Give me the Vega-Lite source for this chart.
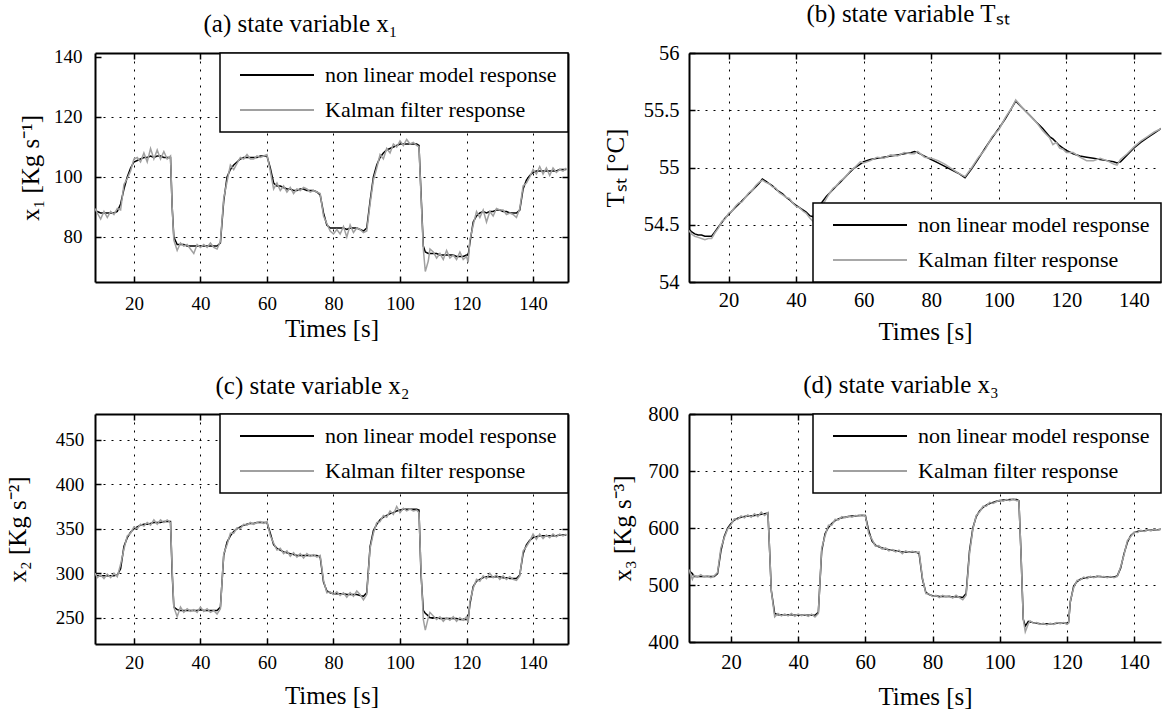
{
 "$schema": "https://vega.github.io/schema/vega-lite/v6.json",
 "background": "white",
 "padding": {"left": 5, "top": 2, "right": 0, "bottom": 0},
 "bounds": "flush",
 "align": "each",
 "columns": 2,
 "spacing": {"row": 132, "column": 121},
 "resolve": {"scale": {"color": "independent"}, "legend": {"color": "independent"}},
 "datasets": {
  "A": [
   {"t":8.3,"m":88.5,"k":89.5},{"t":9,"m":88.5,"k":88},{"t":10,"m":88,"k":86},{"t":11,"m":88,"k":88.5},{"t":12,"m":88,"k":86.5},{"t":13,"m":88,"k":88.5},{"t":14,"m":88,"k":87.5},{"t":15,"m":88.5,"k":89.5},{"t":16,"m":91,"k":89},{"t":17,"m":96,"k":97.5},{"t":18,"m":100,"k":99.5},{"t":19,"m":103,"k":102},{"t":20,"m":105,"k":106},{"t":21,"m":105.5,"k":106.5},{"t":22,"m":106,"k":105},{"t":23,"m":106.5,"k":108},{"t":24,"m":106.5,"k":105},{"t":25,"m":107,"k":109.5},{"t":26,"m":106.5,"k":106},{"t":27,"m":107,"k":109},{"t":28,"m":107,"k":106},{"t":29,"m":106.5,"k":108.5},{"t":30,"m":106.5,"k":106},{"t":31,"m":106.5,"k":107},{"t":31.5,"m":90,"k":90},{"t":32,"m":80,"k":79},{"t":33,"m":77.5,"k":75.5},{"t":34,"m":77.5,"k":78},{"t":35,"m":77.5,"k":77},{"t":36,"m":77,"k":77.5},{"t":37,"m":77,"k":76},{"t":38,"m":77,"k":74.5},{"t":39,"m":77,"k":77.5},{"t":40,"m":77,"k":76.5},{"t":41,"m":77,"k":77.5},{"t":42,"m":77,"k":76.5},{"t":43,"m":77,"k":78},{"t":44,"m":77,"k":76.5},{"t":45,"m":77,"k":76},{"t":46,"m":78,"k":78.5},{"t":47,"m":92,"k":93},{"t":48,"m":100,"k":98.5},{"t":49,"m":102.5,"k":104},{"t":50,"m":104,"k":102.5},{"t":51,"m":105,"k":104.5},{"t":52,"m":106,"k":106.5},{"t":53,"m":106.5,"k":106},{"t":54,"m":106.5,"k":107.5},{"t":55,"m":106.5,"k":106},{"t":56,"m":106.5,"k":106},{"t":57,"m":106.5,"k":107},{"t":58,"m":107,"k":106.5},{"t":59,"m":107,"k":107},{"t":60,"m":107,"k":107.5},{"t":61,"m":103,"k":102},{"t":62,"m":98,"k":96},{"t":63,"m":97,"k":98},{"t":64,"m":97,"k":95.5},{"t":65,"m":96.5,"k":97},{"t":66,"m":96,"k":95},{"t":67,"m":96,"k":96.5},{"t":68,"m":95.5,"k":94.5},{"t":69,"m":95.5,"k":96},{"t":70,"m":96,"k":95.5},{"t":71,"m":96,"k":96.5},{"t":72,"m":95.5,"k":96},{"t":73,"m":95.5,"k":95},{"t":74,"m":95.5,"k":95.5},{"t":75,"m":95,"k":95},{"t":76,"m":94,"k":94.5},{"t":77,"m":88,"k":87},{"t":78,"m":84,"k":84.5},{"t":79,"m":83,"k":82},{"t":80,"m":83,"k":81},{"t":81,"m":83,"k":82.5},{"t":82,"m":83,"k":81},{"t":83,"m":83,"k":83.5},{"t":84,"m":82.5,"k":80},{"t":85,"m":83,"k":84},{"t":86,"m":83,"k":81.5},{"t":87,"m":83,"k":83},{"t":88,"m":82.5,"k":82.5},{"t":89,"m":82,"k":81.5},{"t":90,"m":83,"k":82},{"t":91,"m":92,"k":91},{"t":92,"m":100,"k":99},{"t":93,"m":104,"k":103},{"t":94,"m":106.5,"k":107.5},{"t":95,"m":108,"k":106},{"t":96,"m":109,"k":109.5},{"t":97,"m":109.5,"k":108},{"t":98,"m":110,"k":111},{"t":99,"m":110.5,"k":110},{"t":100,"m":111,"k":112},{"t":101,"m":111,"k":110.5},{"t":102,"m":111,"k":112.5},{"t":103,"m":111,"k":111},{"t":104,"m":111,"k":111.5},{"t":105,"m":111,"k":110.5},{"t":105.7,"m":110.5,"k":110},{"t":106.3,"m":95,"k":94},{"t":107,"m":77,"k":76},{"t":107.6,"m":75,"k":68.5},{"t":108.5,"m":74.5,"k":72},{"t":109,"m":74.5,"k":76},{"t":110,"m":74.5,"k":75},{"t":111,"m":74.5,"k":73},{"t":112,"m":74,"k":74.5},{"t":113,"m":74,"k":72.5},{"t":114,"m":74,"k":75.5},{"t":115,"m":74,"k":73},{"t":116,"m":74,"k":74},{"t":117,"m":73.5,"k":72.5},{"t":118,"m":73.5,"k":75},{"t":119,"m":73.5,"k":72.5},{"t":120,"m":74,"k":73.5},{"t":120.5,"m":74,"k":71.5},{"t":121,"m":78,"k":79},{"t":122,"m":85,"k":84},{"t":123,"m":87,"k":88.5},{"t":124,"m":88,"k":86.5},{"t":125,"m":88.5,"k":89},{"t":126,"m":88,"k":85},{"t":127,"m":88.5,"k":88.5},{"t":128,"m":88.5,"k":87},{"t":129,"m":89,"k":89.5},{"t":130,"m":89,"k":89},{"t":131,"m":88.5,"k":89},{"t":132,"m":88.5,"k":87.5},{"t":133,"m":88,"k":88},{"t":134,"m":88,"k":87.5},{"t":135,"m":88,"k":86.5},{"t":136,"m":89,"k":89.5},{"t":137,"m":96,"k":97},{"t":138,"m":99,"k":98},{"t":139,"m":100.5,"k":100},{"t":140,"m":101.5,"k":102.5},{"t":141,"m":102,"k":101},{"t":142,"m":102,"k":103.5},{"t":143,"m":102,"k":101},{"t":144,"m":102,"k":103},{"t":145,"m":102,"k":100.5},{"t":146,"m":102,"k":103},{"t":147,"m":102,"k":101.5},{"t":148,"m":102.5,"k":102.5},{"t":149,"m":102.5,"k":102},{"t":150,"m":102.5,"k":103}
  ],
  "B": [
   {"t":8.3,"m":54.46,"k":54.45},{"t":9,"m":54.44,"k":54.42},{"t":10,"m":54.42,"k":54.4},{"t":11,"m":54.41,"k":54.39},{"t":12,"m":54.41,"k":54.38},{"t":13,"m":54.4,"k":54.37},{"t":14,"m":54.4,"k":54.38},{"t":15,"m":54.4,"k":54.38},{"t":16,"m":54.44,"k":54.43},{"t":17,"m":54.48,"k":54.47},{"t":18,"m":54.52,"k":54.53},{"t":19,"m":54.56,"k":54.55},{"t":20,"m":54.59,"k":54.6},{"t":21,"m":54.62,"k":54.62},{"t":22,"m":54.65,"k":54.66},{"t":23,"m":54.68,"k":54.69},{"t":24,"m":54.71,"k":54.7},{"t":25,"m":54.74,"k":54.74},{"t":26,"m":54.77,"k":54.78},{"t":27,"m":54.8,"k":54.8},{"t":28,"m":54.83,"k":54.84},{"t":29,"m":54.86,"k":54.87},{"t":30,"m":54.9,"k":54.89},{"t":31,"m":54.88,"k":54.87},{"t":32,"m":54.86,"k":54.86},{"t":33,"m":54.84,"k":54.83},{"t":34,"m":54.81,"k":54.82},{"t":35,"m":54.79,"k":54.78},{"t":36,"m":54.77,"k":54.76},{"t":37,"m":54.74,"k":54.74},{"t":38,"m":54.72,"k":54.73},{"t":39,"m":54.69,"k":54.69},{"t":40,"m":54.67,"k":54.66},{"t":41,"m":54.65,"k":54.65},{"t":42,"m":54.63,"k":54.62},{"t":43,"m":54.61,"k":54.6},{"t":44,"m":54.58,"k":54.56},{"t":45,"m":54.57,"k":54.53},{"t":46,"m":54.62,"k":54.6},{"t":47,"m":54.67,"k":54.66},{"t":48,"m":54.71,"k":54.68},{"t":49,"m":54.75,"k":54.73},{"t":50,"m":54.78,"k":54.78},{"t":51,"m":54.81,"k":54.82},{"t":52,"m":54.84,"k":54.84},{"t":53,"m":54.87,"k":54.88},{"t":54,"m":54.9,"k":54.9},{"t":55,"m":54.93,"k":54.93},{"t":56,"m":54.96,"k":54.97},{"t":57,"m":54.99,"k":54.99},{"t":58,"m":55.01,"k":55.02},{"t":59,"m":55.03,"k":55.05},{"t":60,"m":55.05,"k":55.04},{"t":62,"m":55.07,"k":55.06},{"t":64,"m":55.08,"k":55.09},{"t":66,"m":55.09,"k":55.08},{"t":68,"m":55.1,"k":55.11},{"t":70,"m":55.11,"k":55.1},{"t":72,"m":55.12,"k":55.13},{"t":74,"m":55.13,"k":55.12},{"t":75,"m":55.14,"k":55.12},{"t":76,"m":55.13,"k":55.14},{"t":78,"m":55.1,"k":55.09},{"t":80,"m":55.07,"k":55.08},{"t":82,"m":55.04,"k":55.06},{"t":84,"m":55.01,"k":55.03},{"t":86,"m":54.98,"k":54.99},{"t":88,"m":54.95,"k":54.95},{"t":90,"m":54.91,"k":54.92},{"t":92,"m":54.99,"k":55},{"t":94,"m":55.08,"k":55.09},{"t":96,"m":55.17,"k":55.16},{"t":98,"m":55.26,"k":55.27},{"t":100,"m":55.34,"k":55.33},{"t":102,"m":55.43,"k":55.44},{"t":104,"m":55.53,"k":55.53},{"t":105,"m":55.58,"k":55.59},{"t":107,"m":55.52,"k":55.52},{"t":109,"m":55.46,"k":55.46},{"t":111,"m":55.4,"k":55.4},{"t":113,"m":55.34,"k":55.32},{"t":115,"m":55.27,"k":55.26},{"t":116,"m":55.25,"k":55.2},{"t":117,"m":55.22,"k":55.22},{"t":118,"m":55.19,"k":55.17},{"t":119,"m":55.17,"k":55.16},{"t":120,"m":55.15,"k":55.13},{"t":122,"m":55.12,"k":55.13},{"t":124,"m":55.1,"k":55.09},{"t":126,"m":55.09,"k":55.06},{"t":128,"m":55.08,"k":55.06},{"t":130,"m":55.07,"k":55.08},{"t":132,"m":55.06,"k":55.06},{"t":134,"m":55.05,"k":55.03},{"t":135,"m":55.04,"k":55.02},{"t":136,"m":55.05,"k":55.07},{"t":138,"m":55.11,"k":55.12},{"t":140,"m":55.17,"k":55.18},{"t":142,"m":55.22,"k":55.23},{"t":144,"m":55.26,"k":55.27},{"t":146,"m":55.3,"k":55.31},{"t":148,"m":55.34,"k":55.34},{"t":150,"m":55.38,"k":55.38}
  ],
  "C": [
   {"t":8.3,"m":297,"k":300},{"t":9,"m":297,"k":295},{"t":10,"m":297,"k":298},{"t":11,"m":297,"k":294},{"t":12,"m":297,"k":299},{"t":13,"m":297,"k":295},{"t":14,"m":297,"k":300},{"t":15,"m":298,"k":296},{"t":16,"m":305,"k":310},{"t":17,"m":330,"k":327},{"t":18,"m":340,"k":342},{"t":19,"m":346,"k":345},{"t":20,"m":350,"k":352},{"t":21,"m":352,"k":350},{"t":22,"m":354,"k":355},{"t":23,"m":355,"k":353},{"t":24,"m":355,"k":357},{"t":25,"m":356,"k":354},{"t":26,"m":357,"k":360},{"t":27,"m":357,"k":355},{"t":28,"m":357,"k":360},{"t":29,"m":358,"k":357},{"t":30,"m":358,"k":360},{"t":31,"m":358,"k":357},{"t":31.5,"m":300,"k":305},{"t":32,"m":262,"k":262},{"t":33,"m":259,"k":251},{"t":34,"m":258,"k":262},{"t":35,"m":258,"k":256},{"t":36,"m":258,"k":260},{"t":37,"m":258,"k":257},{"t":38,"m":258,"k":259},{"t":39,"m":258,"k":256},{"t":40,"m":259,"k":262},{"t":41,"m":258,"k":257},{"t":42,"m":258,"k":260},{"t":43,"m":258,"k":256},{"t":44,"m":258,"k":258},{"t":45,"m":258,"k":254},{"t":46,"m":262,"k":260},{"t":47,"m":320,"k":322},{"t":48,"m":335,"k":332},{"t":49,"m":342,"k":345},{"t":50,"m":347,"k":345},{"t":51,"m":350,"k":351},{"t":52,"m":352,"k":350},{"t":53,"m":354,"k":355},{"t":54,"m":355,"k":354},{"t":55,"m":356,"k":357},{"t":56,"m":356,"k":355},{"t":57,"m":357,"k":357},{"t":58,"m":357,"k":358},{"t":59,"m":357,"k":356},{"t":60,"m":357,"k":358},{"t":61,"m":345,"k":342},{"t":62,"m":332,"k":334},{"t":63,"m":328,"k":326},{"t":64,"m":326,"k":328},{"t":65,"m":324,"k":322},{"t":66,"m":323,"k":325},{"t":67,"m":322,"k":319},{"t":68,"m":321,"k":323},{"t":69,"m":320,"k":318},{"t":70,"m":320,"k":322},{"t":71,"m":320,"k":317},{"t":72,"m":320,"k":322},{"t":73,"m":320,"k":319},{"t":74,"m":320,"k":321},{"t":75,"m":320,"k":318},{"t":76,"m":318,"k":320},{"t":77,"m":290,"k":292},{"t":78,"m":280,"k":278},{"t":79,"m":278,"k":279},{"t":80,"m":277,"k":276},{"t":81,"m":277,"k":279},{"t":82,"m":277,"k":275},{"t":83,"m":277,"k":278},{"t":84,"m":276,"k":273},{"t":85,"m":276,"k":278},{"t":86,"m":276,"k":274},{"t":87,"m":276,"k":280},{"t":88,"m":275,"k":276},{"t":89,"m":274,"k":270},{"t":90,"m":278,"k":276},{"t":91,"m":330,"k":328},{"t":92,"m":348,"k":345},{"t":93,"m":355,"k":357},{"t":94,"m":360,"k":358},{"t":95,"m":363,"k":365},{"t":96,"m":365,"k":363},{"t":97,"m":367,"k":370},{"t":98,"m":368,"k":366},{"t":99,"m":370,"k":375},{"t":100,"m":371,"k":368},{"t":101,"m":372,"k":373},{"t":102,"m":372,"k":370},{"t":103,"m":372,"k":372},{"t":104,"m":372,"k":370},{"t":105,"m":372,"k":371},{"t":105.7,"m":371,"k":368},{"t":106.3,"m":300,"k":305},{"t":107,"m":258,"k":248},{"t":107.6,"m":255,"k":236},{"t":108.5,"m":252,"k":250},{"t":109,"m":250,"k":256},{"t":110,"m":250,"k":252},{"t":111,"m":250,"k":248},{"t":112,"m":249,"k":251},{"t":113,"m":249,"k":246},{"t":114,"m":249,"k":250},{"t":115,"m":249,"k":247},{"t":116,"m":249,"k":251},{"t":117,"m":249,"k":246},{"t":118,"m":248,"k":250},{"t":119,"m":248,"k":247},{"t":120,"m":248,"k":251},{"t":120.5,"m":248,"k":244},{"t":121,"m":265,"k":268},{"t":122,"m":285,"k":283},{"t":123,"m":291,"k":293},{"t":124,"m":293,"k":291},{"t":125,"m":295,"k":297},{"t":126,"m":296,"k":294},{"t":127,"m":296,"k":300},{"t":128,"m":296,"k":295},{"t":129,"m":296,"k":298},{"t":130,"m":296,"k":293},{"t":131,"m":295,"k":297},{"t":132,"m":295,"k":293},{"t":133,"m":294,"k":296},{"t":134,"m":294,"k":293},{"t":135,"m":294,"k":292},{"t":136,"m":298,"k":297},{"t":137,"m":322,"k":325},{"t":138,"m":332,"k":330},{"t":139,"m":337,"k":336},{"t":140,"m":340,"k":344},{"t":141,"m":341,"k":338},{"t":142,"m":342,"k":344},{"t":143,"m":342,"k":339},{"t":144,"m":342,"k":343},{"t":145,"m":342,"k":340},{"t":146,"m":342,"k":344},{"t":147,"m":342,"k":341},{"t":148,"m":343,"k":344},{"t":149,"m":343,"k":342},{"t":150,"m":343,"k":344}
  ],
  "D": [
   {"t":7.5,"m":525,"k":527},{"t":8.5,"m":520,"k":510},{"t":9,"m":515,"k":517},{"t":10,"m":515,"k":514},{"t":11,"m":515,"k":518},{"t":12,"m":515,"k":514},{"t":13,"m":515,"k":516},{"t":14,"m":515,"k":513},{"t":15,"m":515,"k":516},{"t":16,"m":520,"k":522},{"t":17,"m":560,"k":565},{"t":18,"m":585,"k":583},{"t":19,"m":600,"k":598},{"t":20,"m":608,"k":606},{"t":21,"m":614,"k":616},{"t":22,"m":617,"k":615},{"t":23,"m":619,"k":621},{"t":24,"m":620,"k":618},{"t":25,"m":621,"k":623},{"t":26,"m":621,"k":619},{"t":27,"m":622,"k":625},{"t":28,"m":623,"k":620},{"t":29,"m":624,"k":628},{"t":30,"m":625,"k":622},{"t":31,"m":626,"k":627},{"t":31.5,"m":560,"k":560},{"t":32,"m":490,"k":490},{"t":33,"m":450,"k":444},{"t":34,"m":448,"k":450},{"t":35,"m":448,"k":446},{"t":36,"m":448,"k":449},{"t":37,"m":448,"k":446},{"t":38,"m":448,"k":450},{"t":39,"m":447,"k":445},{"t":40,"m":447,"k":449},{"t":41,"m":447,"k":446},{"t":42,"m":447,"k":448},{"t":43,"m":447,"k":445},{"t":44,"m":447,"k":449},{"t":45,"m":447,"k":444},{"t":46,"m":452,"k":450},{"t":47,"m":560,"k":565},{"t":48,"m":590,"k":586},{"t":49,"m":601,"k":605},{"t":50,"m":608,"k":605},{"t":51,"m":613,"k":615},{"t":52,"m":616,"k":614},{"t":53,"m":618,"k":620},{"t":54,"m":619,"k":618},{"t":55,"m":620,"k":621},{"t":56,"m":621,"k":619},{"t":57,"m":621,"k":622},{"t":58,"m":622,"k":621},{"t":59,"m":622,"k":623},{"t":60,"m":622,"k":621},{"t":61,"m":595,"k":590},{"t":62,"m":577,"k":580},{"t":63,"m":570,"k":568},{"t":64,"m":567,"k":569},{"t":65,"m":565,"k":563},{"t":66,"m":563,"k":565},{"t":67,"m":562,"k":560},{"t":68,"m":561,"k":562},{"t":69,"m":560,"k":558},{"t":70,"m":559,"k":561},{"t":71,"m":558,"k":555},{"t":72,"m":558,"k":560},{"t":73,"m":558,"k":557},{"t":74,"m":558,"k":559},{"t":75,"m":558,"k":557},{"t":76,"m":555,"k":558},{"t":77,"m":510,"k":512},{"t":78,"m":487,"k":485},{"t":79,"m":483,"k":484},{"t":80,"m":481,"k":480},{"t":81,"m":481,"k":482},{"t":82,"m":480,"k":478},{"t":83,"m":480,"k":482},{"t":84,"m":480,"k":479},{"t":85,"m":480,"k":481},{"t":86,"m":479,"k":477},{"t":87,"m":480,"k":482},{"t":88,"m":479,"k":478},{"t":89,"m":478,"k":474},{"t":90,"m":485,"k":482},{"t":91,"m":560,"k":555},{"t":92,"m":600,"k":598},{"t":93,"m":620,"k":622},{"t":94,"m":630,"k":628},{"t":95,"m":636,"k":638},{"t":96,"m":640,"k":638},{"t":97,"m":643,"k":645},{"t":98,"m":645,"k":643},{"t":99,"m":647,"k":646},{"t":100,"m":648,"k":649},{"t":101,"m":649,"k":647},{"t":102,"m":649,"k":650},{"t":103,"m":650,"k":648},{"t":104,"m":650,"k":651},{"t":105,"m":650,"k":648},{"t":105.7,"m":648,"k":648},{"t":106.3,"m":560,"k":560},{"t":107,"m":440,"k":440},{"t":107.6,"m":428,"k":418},{"t":108.5,"m":436,"k":432},{"t":109,"m":435,"k":437},{"t":110,"m":434,"k":433},{"t":111,"m":433,"k":434},{"t":112,"m":432,"k":431},{"t":113,"m":432,"k":433},{"t":114,"m":432,"k":430},{"t":115,"m":432,"k":433},{"t":116,"m":432,"k":431},{"t":117,"m":433,"k":434},{"t":118,"m":433,"k":432},{"t":119,"m":433,"k":434},{"t":120,"m":433,"k":431},{"t":120.5,"m":435,"k":433},{"t":121,"m":470,"k":472},{"t":122,"m":498,"k":495},{"t":123,"m":506,"k":508},{"t":124,"m":510,"k":509},{"t":125,"m":512,"k":514},{"t":126,"m":513,"k":511},{"t":127,"m":514,"k":515},{"t":128,"m":514,"k":513},{"t":129,"m":515,"k":516},{"t":130,"m":515,"k":514},{"t":131,"m":514,"k":515},{"t":132,"m":514,"k":513},{"t":133,"m":514,"k":515},{"t":134,"m":514,"k":513},{"t":135,"m":516,"k":515},{"t":136,"m":530,"k":532},{"t":137,"m":555,"k":553},{"t":138,"m":575,"k":578},{"t":139,"m":587,"k":585},{"t":140,"m":592,"k":593},{"t":141,"m":594,"k":592},{"t":142,"m":595,"k":596},{"t":143,"m":595,"k":594},{"t":144,"m":596,"k":597},{"t":145,"m":596,"k":595},{"t":146,"m":597,"k":598},{"t":147,"m":597,"k":596},{"t":148,"m":598,"k":598},{"t":149,"m":598,"k":597},{"t":150,"m":598,"k":599}
  ]
 },
 "concat": [
  {
   "width": 473, "height": 229,
   "data": {"name": "A"},
   "title": {"text": "(a) state variable  x₁", "dx": -31, "offset": 11},
   "transform": [{"fold": ["m", "k"], "as": ["series", "value"]}],
   "resolve": {"axis": {"x": "independent", "y": "independent"}},
   "layer": [
    {"mark": {"type": "line", "strokeWidth": 1.5, "clip": true},
     "encoding": {
      "x": {"field": "t", "type": "quantitative", "scale": {"domain": [8.3, 150.5], "nice": false, "zero": false},
            "axis": {"orient": "bottom", "values": [20,40,60,80,100,120,140], "title": "Times [s]", "grid": true, "labelFont": "Liberation Serif", "titleFont": "Liberation Serif", "labelFontSize": 19, "labelPadding": 18, "titlePadding": 3}},
      "y": {"field": "value", "type": "quantitative", "scale": {"domain": [65, 141.33], "nice": false, "zero": false},
            "axis": {"orient": "left", "values": [80,100,120,140], "title": "x₁ [Kg s⁻¹]", "grid": true, "labelFont": "Liberation Serif", "titleFont": "Liberation Serif", "labelFontSize": 19, "labelPadding": 19, "titlePadding": 10,
                     "gridOpacity": {"condition": {"test": "datum.value == 140", "value": 0}, "value": 1}}},
      "color": {"field": "series", "type": "nominal", "scale": {"domain": ["m", "k"], "range": ["#000000", "#a0a0a0"]},
                "legend": {"title": null, "orient": "top-right", "offset": 0, "labelFont": "Liberation Serif", "labelExpr": "datum.label == 'm' ? 'non linear model response' : 'Kalman filter response'"}}
     }},
    {"mark": {"type": "line", "strokeOpacity": 0, "clip": true},
     "encoding": {
      "x": {"field": "t", "type": "quantitative", "scale": {"domain": [8.3, 150.5], "nice": false, "zero": false},
            "axis": {"orient": "top", "values": [20,40,60,80,100,120,140], "labels": false, "title": null, "grid": false}},
      "y": {"field": "value", "type": "quantitative", "scale": {"domain": [65, 141.33], "nice": false, "zero": false},
            "axis": {"orient": "right", "values": [80,100,120,140], "labels": false, "title": null, "grid": false}}
     }}
   ]
  },
  {
   "width": 472, "height": 229,
   "data": {"name": "B"},
   "title": {"text": "(b) state variable Tₛₜ", "dx": -17, "offset": 16},
   "transform": [{"fold": ["m", "k"], "as": ["series", "value"]}],
   "resolve": {"axis": {"x": "independent", "y": "independent"}},
   "layer": [
    {"mark": {"type": "line", "strokeWidth": 1.5, "clip": true},
     "encoding": {
      "x": {"field": "t", "type": "quantitative", "scale": {"domain": [8.3, 148.0], "nice": false, "zero": false},
            "axis": {"orient": "bottom", "values": [20,40,60,80,100,120,140], "title": "Times [s]", "grid": true, "labelFont": "Liberation Serif", "titleFont": "Liberation Serif", "labelFontSize": 20.5, "labelPadding": 14.5, "titlePadding": 8}},
      "y": {"field": "value", "type": "quantitative", "scale": {"domain": [54, 56], "nice": false, "zero": false},
            "axis": {"orient": "left", "values": [54,54.5,55,55.5,56], "format": "~g", "title": "Tₛₜ [°C]", "grid": true, "labelFont": "Liberation Serif", "titleFont": "Liberation Serif", "labelFontSize": 20.5, "labelPadding": 16, "titlePadding": 15}},
      "color": {"field": "series", "type": "nominal", "scale": {"domain": ["m", "k"], "range": ["#000000", "#a8a8a8"]},
                "legend": {"title": null, "orient": "bottom-right", "offset": 0, "labelFont": "Liberation Serif", "labelExpr": "datum.label == 'm' ? 'non linear model response' : 'Kalman filter response'"}}
     }},
    {"mark": {"type": "line", "strokeOpacity": 0, "clip": true},
     "encoding": {
      "x": {"field": "t", "type": "quantitative", "scale": {"domain": [8.3, 148.0], "nice": false, "zero": false},
            "axis": {"orient": "top", "values": [20,40,60,80,100,120,140], "labels": false, "title": null, "grid": false}},
      "y": {"field": "value", "type": "quantitative", "scale": {"domain": [54, 56], "nice": false, "zero": false}, "axis": null}
     }}
   ]
  },
  {
   "width": 473, "height": 230,
   "data": {"name": "C"},
   "title": {"text": "(c) state variable x₂", "dx": -19, "offset": 14},
   "transform": [{"fold": ["m", "k"], "as": ["series", "value"]}],
   "resolve": {"axis": {"x": "independent", "y": "independent"}},
   "layer": [
    {"mark": {"type": "line", "strokeWidth": 1.5, "clip": true},
     "encoding": {
      "x": {"field": "t", "type": "quantitative", "scale": {"domain": [8.3, 150.5], "nice": false, "zero": false},
            "axis": {"orient": "bottom", "values": [20,40,60,80,100,120,140], "title": "Times [s]", "grid": true, "labelFont": "Liberation Serif", "titleFont": "Liberation Serif", "labelFontSize": 19, "labelPadding": 15.5, "titlePadding": 11}},
      "y": {"field": "value", "type": "quantitative", "scale": {"domain": [220.4, 479], "nice": false, "zero": false},
            "axis": {"orient": "left", "values": [250,300,350,400,450], "title": "x₂ [Kg s⁻²]", "grid": true, "labelFont": "Liberation Serif", "titleFont": "Liberation Serif", "labelFontSize": 19, "labelPadding": 17.3, "titlePadding": 25}},
      "color": {"field": "series", "type": "nominal", "scale": {"domain": ["m", "k"], "range": ["#000000", "#a0a0a0"]},
                "legend": {"title": null, "orient": "top-right", "offset": 0, "labelFont": "Liberation Serif", "labelExpr": "datum.label == 'm' ? 'non linear model response' : 'Kalman filter response'"}}
     }},
    {"mark": {"type": "line", "strokeOpacity": 0, "clip": true},
     "encoding": {
      "x": {"field": "t", "type": "quantitative", "scale": {"domain": [8.3, 150.5], "nice": false, "zero": false},
            "axis": {"orient": "top", "values": [20,40,60,80,100,120,140], "labels": false, "title": null, "grid": false}},
      "y": {"field": "value", "type": "quantitative", "scale": {"domain": [220.4, 479], "nice": false, "zero": false},
            "axis": {"orient": "right", "values": [250,300,350,400,450], "labels": false, "title": null, "grid": false}}
     }}
   ]
  },
  {
   "width": 472, "height": 228,
   "data": {"name": "D"},
   "title": {"text": "(d)  state variable x₃", "dx": -24, "offset": 6},
   "transform": [{"fold": ["m", "k"], "as": ["series", "value"]}],
   "resolve": {"axis": {"x": "independent", "y": "independent"}},
   "layer": [
    {"mark": {"type": "line", "strokeWidth": 1.5, "clip": true},
     "encoding": {
      "x": {"field": "t", "type": "quantitative", "scale": {"domain": [7.5, 148.0], "nice": false, "zero": false},
            "axis": {"orient": "bottom", "values": [20,40,60,80,100,120,140], "title": "Times [s]", "grid": true, "labelFont": "Liberation Serif", "titleFont": "Liberation Serif", "labelFontSize": 20.5, "labelPadding": 16, "titlePadding": 12}},
      "y": {"field": "value", "type": "quantitative", "scale": {"domain": [400, 800], "nice": false, "zero": false},
            "axis": {"orient": "left", "values": [400,500,600,700,800], "title": "x₃ [Kg s⁻³]", "grid": true, "labelFont": "Liberation Serif", "titleFont": "Liberation Serif", "labelFontSize": 20.5, "labelPadding": 16.5, "titlePadding": 12}},
      "color": {"field": "series", "type": "nominal", "scale": {"domain": ["m", "k"], "range": ["#000000", "#a0a0a0"]},
                "legend": {"title": null, "orient": "top-right", "offset": 0, "labelFont": "Liberation Serif", "labelExpr": "datum.label == 'm' ? 'non linear model response' : 'Kalman filter response'"}}
     }},
    {"mark": {"type": "line", "strokeOpacity": 0, "clip": true},
     "encoding": {
      "x": {"field": "t", "type": "quantitative", "scale": {"domain": [7.5, 148.0], "nice": false, "zero": false},
            "axis": {"orient": "top", "values": [20,40,60,80,100,120,140], "labels": false, "title": null, "grid": false}},
      "y": {"field": "value", "type": "quantitative", "scale": {"domain": [400, 800], "nice": false, "zero": false}, "axis": null}
     }}
   ]
  }
 ],
 "config": {
  "view": {"stroke": null},
  "font": "Liberation Serif",
  "style": {"guide-label": {"font": "Liberation Serif"}, "guide-title": {"font": "Liberation Serif"}, "group-title": {"font": "Liberation Serif"}},
  "axis": {"domainColor": "#000000", "domainWidth": 2, "tickColor": "#000000", "tickSize": -6, "tickWidth": 1.5,
           "labelColor": "#000000", "labelFont": "Liberation Serif", "titleFont": "Liberation Serif", "titleFontWeight": "normal",
           "titleColor": "#000000", "titleFontSize": 25, "gridColor": "#000000", "gridDash": [2, 6], "gridWidth": 1,
           "labelFlush": false, "labelOverlap": false, "labelBound": false},
  "title": {"font": "Liberation Serif", "fontSize": 25, "fontWeight": "normal", "color": "#000000", "anchor": "middle", "frame": "group", "baseline": "alphabetic"},
  "legend": {"strokeColor": "#000000", "fillColor": "#ffffff", "strokeWidth": 1.5, "padding": 11, "rowPadding": 13,
             "labelFont": "Liberation Serif", "labelFontSize": 22, "labelColor": "#000000", "labelLimit": 400,
             "symbolType": "M-0.286,0H10.286", "symbolSize": 196, "symbolStrokeWidth": 2, "labelOffset": 72, "cornerRadius": 0}
 }
}
